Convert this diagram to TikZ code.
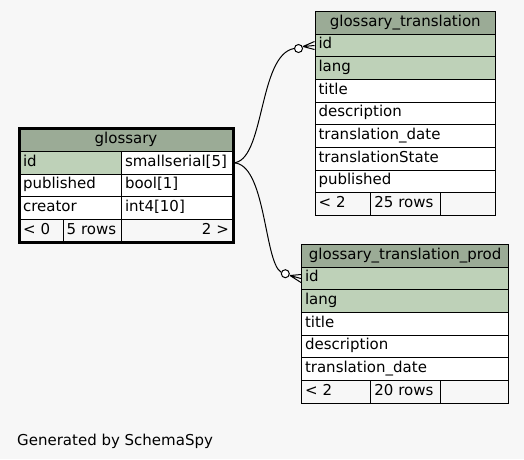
\documentclass[tikz,border=0pt]{standalone}
\usepackage{fontspec}
\setmainfont{DejaVu Sans}
\definecolor{bgcol}{HTML}{F7F7F7}
\definecolor{headcol}{HTML}{9BAB96}
\definecolor{keycol}{HTML}{BED1B8}
\tikzset{
  cell/.style={draw=black, line width=1pt, fill=white, anchor=north west,
    inner xsep=3.5pt, inner ysep=0pt, minimum height=22.67pt,
    text height=11pt, text depth=4.5pt, align=left,
    font=\fontsize{15}{18}\selectfont},
  w/.style={text width=#1pt-7pt},
  head/.style={cell, fill=headcol, align=center},
  key/.style={cell, fill=keycol},
  foot/.style={cell, fill=bgcol},
  odot/.style={circle, draw, fill=white, line width=1pt, inner sep=0pt, minimum size=8pt},
  rel/.style={line width=1pt},
}
\begin{document}
\begin{tikzpicture}[x=1pt,y=-1pt]
\useasboundingbox[fill=bgcol] (0,0) rectangle (524,459);

% glossary
\node[head, w=213] (g-head) at (19,128.3) {glossary};
\node[key, w=102] (g-id) at (19,151) {id};
\node[cell, w=111] (g-id-type) at (121,151) {smallserial[5]};
\node[cell, w=102] (g-published) at (19,173.67) {published};
\node[cell, w=111] (g-published-type) at (121,173.67) {bool[1]};
\node[cell, w=102] (g-creator) at (19,196.33) {creator};
\node[cell, w=111] (g-creator-type) at (121,196.33) {int4[10]};
\node[foot, w=43.5] (g-foot1) at (19,219) {< 0};
\node[foot, w=58.5] (g-foot2) at (62.5,219) {5 rows};
\node[foot, w=111, align=right] (g-foot3) at (121,219) {2 >};
\draw[line width=3pt] (g-head.north west) rectangle (g-foot3.south east);

% glossary_translation
\node[head, w=180.5] (t-head) at (314.5,11) {glossary\_translation};
\foreach \col [count=\i] in {id,lang}
  \node[key, w=180.5] (t-\col) at (314.5,{11+\i*22.67}) {\col};
\foreach \col [count=\i from 3] in {title,description,translation\_date,translationState,published}
  \node[cell, w=180.5] (t-row\i) at (314.5,{11+\i*22.67}) {\col};
\node[foot, w=55.8] (t-foot1) at (314.5,{11+8*22.67}) {< 2};
\node[foot, w=69.7] (t-foot2) at (370.3,{11+8*22.67}) {25 rows};
\node[foot, w=55] (t-foot3) at (440,{11+8*22.67}) {};

% glossary_translation_prod
\node[head, w=207.3] (p-head) at (301,244) {glossary\_translation\_prod};
\foreach \col [count=\i] in {id,lang}
  \node[key, w=207.3] (p-\col) at (301,{244+\i*22.67}) {\col};
\foreach \col [count=\i from 3] in {title,description,translation\_date}
  \node[cell, w=207.3] (p-row\i) at (301,{244+\i*22.67}) {\col};
\node[foot, w=69.3] (p-foot1) at (301,{244+6*22.67}) {< 2};
\node[foot, w=69.7] (p-foot2) at (370.3,{244+6*22.67}) {20 rows};
\node[foot, w=68.3] (p-foot3) at (440,{244+6*22.67}) {};

% relations
\node[odot] (t-dot) at (298.5,48.5) {};
\draw[rel] (g-id-type.east) .. controls (265,162.3) and (258,55) .. (t-dot.west);
\coordinate (t-crow) at (303,46.5);
\draw[rel] (t-crow) -- ([yshift=4pt]t-id.west) (t-crow) -- (t-id.west) (t-crow) -- ([yshift=-4pt]t-id.west);

\node[odot] (p-dot) at (285.3,273.7) {};
\draw[rel] (g-id-type.east) .. controls (266,162.3) and (264,262) .. (p-dot.160);
\coordinate (p-crow) at (290,275.5);
\draw[rel] (p-crow) -- ([yshift=4pt]p-id.west) (p-crow) -- (p-id.west) (p-crow) -- ([yshift=-4pt]p-id.west);

\node[anchor=base west, inner sep=0pt, font=\fontsize{15}{18}\selectfont] (gen) at (17,445) {Generated by SchemaSpy};
\end{tikzpicture}
\end{document}
